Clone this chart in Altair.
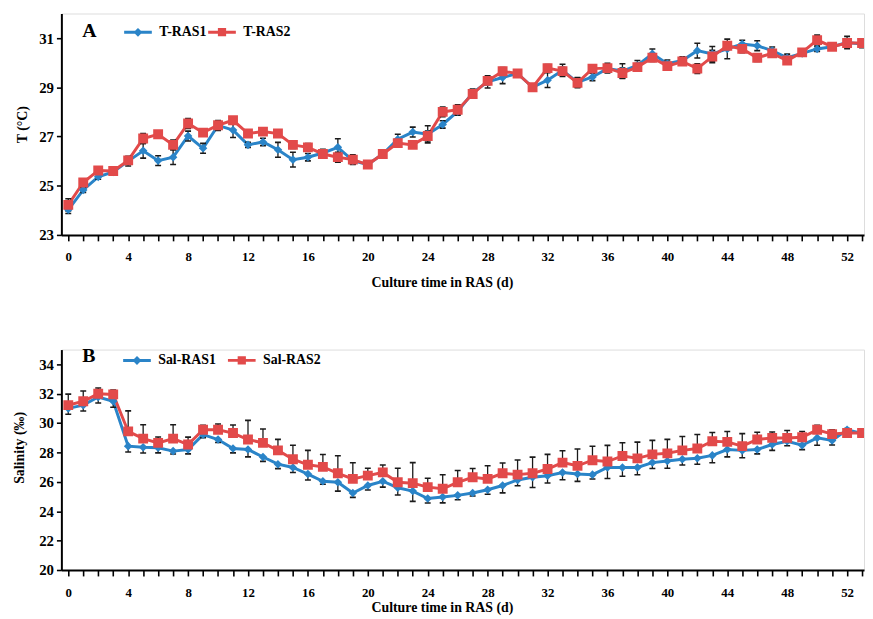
import altair as alt
import pandas as pd

days = list(range(0, 54))

t_ras1 = [24.02, 24.83, 25.36, 25.56, 26.00, 26.42, 26.02, 26.16, 27.02, 26.52,
          27.45, 27.26, 26.66, 26.78, 26.46, 26.06, 26.16, 26.33, 26.56, 26.02,
          25.86, 26.29, 26.89, 27.18, 27.09, 27.49, 28.02, 28.78, 29.22, 29.40,
          29.56, 29.00, 29.29, 29.69, 29.20, 29.42, 29.76, 29.66, 29.89, 30.36,
          29.96, 30.09, 30.49, 30.36, 30.56, 30.76, 30.69, 30.49, 30.20, 30.38,
          30.56, 30.65, 30.82, 30.76]
t_ras1_err = [0.15, 0.10, 0.10, 0.10, 0.20, 0.30, 0.20, 0.30, 0.20, 0.20,
              0.20, 0.30, 0.10, 0.15, 0.30, 0.30, 0.15, 0.15, 0.35, 0.15,
              0.10, 0.10, 0.20, 0.20, 0.35, 0.15, 0.15, 0.15, 0.25, 0.25,
              0.10, 0.10, 0.30, 0.25, 0.20, 0.15, 0.15, 0.30, 0.20, 0.20,
              0.15, 0.15, 0.30, 0.30, 0.40, 0.15, 0.20, 0.15, 0.15, 0.10,
              0.10, 0.10, 0.25, 0.15]
t_ras2 = [24.22, 25.13, 25.62, 25.60, 26.03, 26.92, 27.09, 26.66, 27.53, 27.16,
          27.46, 27.66, 27.12, 27.20, 27.12, 26.66, 26.56, 26.29, 26.16, 26.06,
          25.86, 26.29, 26.73, 26.66, 27.02, 28.00, 28.09, 28.73, 29.26, 29.65,
          29.56, 29.00, 29.78, 29.66, 29.18, 29.76, 29.78, 29.58, 29.82, 30.20,
          29.86, 30.05, 29.76, 30.25, 30.69, 30.56, 30.20, 30.38, 30.09, 30.42,
          30.92, 30.65, 30.80, 30.80]
t_ras2_err = [0.25, 0.15, 0.10, 0.15, 0.15, 0.20, 0.10, 0.20, 0.20, 0.15,
              0.15, 0.10, 0.10, 0.10, 0.10, 0.15, 0.15, 0.15, 0.20, 0.20,
              0.15, 0.10, 0.10, 0.10, 0.20, 0.20, 0.20, 0.10, 0.15, 0.15,
              0.15, 0.10, 0.15, 0.15, 0.20, 0.10, 0.20, 0.20, 0.15, 0.15,
              0.15, 0.15, 0.20, 0.25, 0.15, 0.15, 0.15, 0.15, 0.15, 0.15,
              0.20, 0.10, 0.15, 0.15]

sal_ras1 = [31.00, 31.22, 31.77, 31.48, 28.43, 28.36, 28.32, 28.09, 28.20, 29.21,
            28.88, 28.27, 28.20, 27.69, 27.20, 26.98, 26.53, 26.04, 25.97, 25.24,
            25.75, 26.04, 25.60, 25.37, 24.86, 24.97, 25.08, 25.24, 25.46, 25.75,
            26.13, 26.31, 26.42, 26.64, 26.53, 26.49, 26.98, 26.98, 26.98, 27.31,
            27.42, 27.54, 27.60, 27.80, 28.20, 28.14, 28.20, 28.54, 28.76, 28.49,
            28.99, 28.81, 29.54, 29.30]
sal_ras1_err = [0.40, 0.40, 0.40, 0.40, 0.40, 0.40, 0.35, 0.20, 0.30, 0.20,
                0.20, 0.30, 0.50, 0.30, 0.30, 0.35, 0.40, 0.20, 0.60, 0.30,
                0.30, 0.40, 0.50, 0.70, 0.30, 0.40, 0.30, 0.20, 0.30, 0.50,
                0.40, 0.70, 0.50, 0.50, 0.50, 0.30, 0.75, 0.60, 0.50, 0.40,
                0.50, 0.40, 0.40, 0.50, 0.50, 0.50, 0.30, 0.40, 0.30, 0.30,
                0.50, 0.30, 0.30, 0.20]
sal_ras2 = [31.22, 31.48, 31.99, 31.95, 29.43, 28.94, 28.65, 28.94, 28.54, 29.54,
            29.54, 29.32, 28.88, 28.65, 28.14, 27.54, 27.16, 27.02, 26.58, 26.20,
            26.42, 26.64, 25.97, 25.91, 25.64, 25.53, 25.97, 26.31, 26.20, 26.58,
            26.49, 26.58, 26.87, 27.31, 27.09, 27.47, 27.38, 27.76, 27.60, 27.87,
            27.94, 28.14, 28.27, 28.76, 28.72, 28.43, 28.88, 28.99, 28.99, 29.03,
            29.54, 29.25, 29.32, 29.32]
sal_ras2_err = [0.75, 0.70, 0.40, 0.30, 1.40, 0.95, 0.40, 0.95, 0.50, 0.30,
                0.40, 0.55, 1.30, 0.95, 0.75, 0.95, 0.98, 0.84, 1.20, 1.10,
                0.50, 0.50, 0.95, 1.40, 0.60, 0.95, 0.80, 0.60, 0.90, 0.70,
                1.00, 1.10, 1.00, 0.80, 1.15, 0.95, 1.10, 0.90, 1.10, 0.95,
                0.95, 0.95, 0.95, 0.60, 0.70, 0.85, 0.50, 0.40, 0.50, 0.40,
                0.30, 0.30, 0.30, 0.20]

BLUE = "#2A84C8"
RED = "#E24A4A"
BAR = "#1a1a1a"
FONT = "Liberation Serif"

DIAMOND_LEG = "M-1,0H1M0,-0.17L0.17,0L0,0.17L-0.17,0Z"
SQUARE_LEG = "M-1,0H1M-0.19,-0.19H0.19V0.19H-0.19Z"


def make_frame(name, vals, err, up, down):
    rows = []
    for d, v, e in zip(days, vals, err):
        rows.append({"day": d, "value": v, "series": name,
                     "lo": v - e if down else v,
                     "hi": v + e if up else v})
    return pd.DataFrame(rows)


def panel(names, v1, e1, v2, e2, y_dom, y_vals, y_title, letter,
          leg_x, leg_y, col_pad, lab_pad, tit_pad, y_title_x, y_title_y,
          leg_title_baseline, err_mode1, err_mode2):
    df1 = make_frame(names[0], v1, e1, *err_mode1)
    df2 = make_frame(names[1], v2, e2, *err_mode2)

    x_axis = alt.Axis(values=days, labelExpr="datum.value % 4 === 0 ? datum.label : ''",
                      title="Culture time in RAS (d)", tickSize=6, tickWidth=1.6,
                      domainWidth=2, tickColor="black", domainColor="black",
                      labelFont=FONT, labelFontWeight="bold", labelFontSize=13,
                      labelColor="black", labelPadding=lab_pad, labelFlush=False,
                      labelOverlap=False,
                      titleFont=FONT, titleFontWeight="bold", titleFontSize=14,
                      titleColor="black", titlePadding=tit_pad, titleX=385,
                      grid=False)
    y_axis = alt.Axis(values=y_vals, title=y_title, tickSize=5, tickWidth=1.6,
                      domainWidth=2, tickColor="black", domainColor="black",
                      labelFont=FONT, labelFontWeight="bold", labelFontSize=15,
                      labelColor="black", labelPadding=3, labelOverlap=False,
                      labelFlush=False,
                      titleFont=FONT, titleFontWeight="bold", titleFontSize=14,
                      titleColor="black", titleX=y_title_x, titleY=y_title_y,
                      titleBaseline="middle", titleAngle=270,
                      grid=False)

    def X(field="day"):
        return alt.X(f"{field}:Q", scale=alt.Scale(domain=[-0.46, 53.13], nice=False, zero=False),
                     axis=x_axis)

    def Y(field):
        return alt.Y(f"{field}:Q", scale=alt.Scale(domain=y_dom, nice=False, zero=False),
                     axis=y_axis)

    layers = []
    for df, col in [(df1, BLUE), (df2, RED)]:
        layers.append(alt.Chart(df).mark_line(color=col, strokeWidth=3, clip=True)
                      .encode(x=X(), y=Y("value")))
    for df in [df1, df2]:
        layers.append(alt.Chart(df).mark_rule(color=BAR, strokeWidth=1.3, clip=True)
                      .encode(x=X(), y=Y("lo"), y2="hi:Q"))
        for fld in ["lo", "hi"]:
            layers.append(alt.Chart(df).mark_tick(orient="horizontal", size=6, thickness=1.6,
                                                  color=BAR, clip=True, opacity=1)
                          .encode(x=X(), y=Y(fld)))
    layers.append(alt.Chart(df1).mark_point(shape="diamond", filled=True, size=75,
                                            color=BLUE, opacity=1, clip=True)
                  .encode(x=X(), y=Y("value")))
    layers.append(alt.Chart(df2).mark_point(shape="square", filled=True, size=100,
                                            color=RED, opacity=1, clip=True)
                  .encode(x=X(), y=Y("value")))

    leg = alt.Legend(orient="none", legendX=leg_x, legendY=leg_y, direction="horizontal",
                     title=letter, titleOrient="left", titleFont=FONT, titleFontSize=20,
                     titleFontWeight="bold", titleColor="black", titlePadding=26,
                     titleBaseline=leg_title_baseline, titleLineHeight=7,
                     labelFont=FONT, labelFontSize=14, labelFontWeight="bold",
                     labelColor="black", labelOffset=6, columnPadding=col_pad,
                     symbolSize=784, symbolStrokeWidth=3, symbolOpacity=1)
    leg_df = pd.DataFrame({"series": names})
    legend_layer = (alt.Chart(leg_df).transform_filter("false")
                    .mark_point(filled=True, strokeWidth=3, opacity=1)
                    .encode(fill=alt.Fill("series:N", scale=alt.Scale(domain=names, range=[BLUE, RED]), legend=leg),
                            stroke=alt.Stroke("series:N", scale=alt.Scale(domain=names, range=[BLUE, RED]), legend=leg),
                            shape=alt.Shape("series:N", scale=alt.Scale(domain=names, range=[DIAMOND_LEG, SQUARE_LEG]), legend=leg)))
    layers.append(legend_layer)
    return alt.layer(*layers)


top = panel(["T-RAS1", "T-RAS2"], t_ras1, t_ras1_err, t_ras2, t_ras2_err,
            [23, 32], [23, 25, 27, 29, 31], "T (°C)", "A",
            21, 3, -8, 10, 12, -39, 112, "line-top",
            (True, True), (True, True)).properties(width=812, height=224)
bottom = panel(["Sal-RAS1", "Sal-RAS2"], sal_ras1, sal_ras1_err, sal_ras2, sal_ras2_err,
               [20, 35], [20, 22, 24, 26, 28, 30, 32, 34], "Salinity (‰)", "B",
               21, -5, 5, 11, 1, -42, 99, "middle",
               (False, True), (True, False)).properties(width=812, height=223)

chart = (alt.vconcat(top, bottom, spacing=54)
         .resolve_scale(fill="independent", stroke="independent", shape="independent",
                        x="independent", y="independent")
         .resolve_legend(fill="independent", stroke="independent", shape="independent")
         .properties(padding={"left": 4, "top": 1, "right": 0, "bottom": 0})
         .configure_view(stroke=None)
         .configure_axis(labelOverlap=False)
         .configure(font=FONT))

chart.save("out.html", embed_options={"renderer": "svg", "actions": False})
